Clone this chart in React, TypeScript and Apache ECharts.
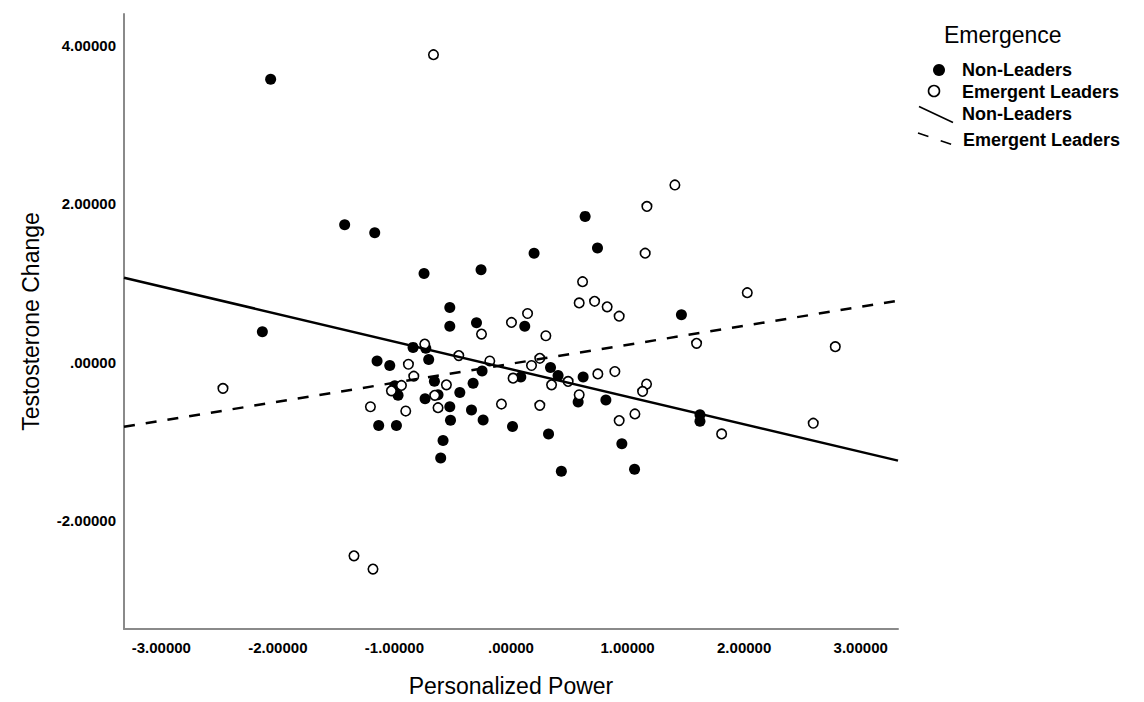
import React, { useEffect, useRef } from "react";
import * as echarts from "echarts";

const xTicks = [-3, -2, -1, 0, 1, 2, 3];
const yTicks = [-2, 0, 2, 4];

const nonLeaders: [number, number][] = [
  [-2.062, 3.577], [-2.133, 0.386], [-1.427, 1.737], [-1.169, 1.637],
  [-0.746, 1.122], [-0.257, 1.168], [0.636, 1.843], [0.742, 1.445],
  [0.198, 1.378], [1.462, 0.599], [-0.525, 0.691], [-0.525, 0.456],
  [-0.296, 0.499], [0.118, 0.456], [-0.84, 0.188], [-0.731, 0.176],
  [-0.706, 0.034], [-1.149, 0.016], [-1.04, -0.041], [-0.248, -0.109],
  [-0.657, -0.239], [-0.325, -0.264], [-0.997, -0.298], [-0.969, -0.418],
  [-0.626, -0.411], [-0.439, -0.381], [-0.737, -0.461], [-0.525, -0.562],
  [-0.339, -0.603], [-0.519, -0.732], [-0.239, -0.729], [0.013, -0.813],
  [-1.135, -0.8], [-0.983, -0.8], [-0.583, -0.989], [-0.603, -1.21],
  [0.339, -0.067], [0.084, -0.185], [0.404, -0.167], [0.619, -0.185],
  [0.576, -0.503], [0.814, -0.477], [0.322, -0.905], [0.951, -1.03],
  [0.432, -1.376], [1.06, -1.351], [1.621, -0.662], [1.621, -0.745],
];

const emergentLeaders: [number, number][] = [
  [-0.665, 3.886], [-2.471, -0.33], [1.406, 2.24], [1.166, 1.969],
  [1.151, 1.378], [0.614, 1.018], [0.585, 0.75], [0.717, 0.77],
  [0.825, 0.7], [0.928, 0.582], [0.142, 0.616], [0.004, 0.503],
  [-0.253, 0.356], [0.299, 0.335], [2.027, 0.879], [1.592, 0.239],
  [2.782, 0.197], [2.593, -0.77], [1.807, -0.905], [-0.74, 0.23],
  [-0.448, 0.084], [-0.182, 0.016], [-0.88, -0.025], [-0.834, -0.176],
  [0.018, -0.201], [-0.554, -0.285], [-0.94, -0.293], [-1.026, -0.361],
  [-0.654, -0.418], [-1.206, -0.562], [-0.903, -0.616], [-0.626, -0.574],
  [0.247, 0.05], [0.176, -0.041], [0.49, -0.242], [0.348, -0.285],
  [0.745, -0.147], [0.891, -0.117], [1.163, -0.276], [1.129, -0.368],
  [0.585, -0.411], [-0.082, -0.528], [0.247, -0.544], [1.063, -0.653],
  [0.928, -0.737], [-1.347, -2.446], [-1.184, -2.613],
];

// Fit lines: [intercept, slope]
const fitNonLeaders: [number, number] = [-0.087, -0.348];
const fitEmergentLeaders: [number, number] = [-0.019, 0.24];

const X_MIN = -3.32;
const X_MAX = 3.32;
const Y_MIN = -3.37;
const Y_MAX = 4.4;

const FONT = '"Liberation Sans", Arial, Helvetica, sans-serif';

const fmt = (v: number) => Number(v).toFixed(5).replace(/^(-?)0\./, "$1.");

const fitLine = (f: [number, number]) => [
  [X_MIN, f[0] + f[1] * X_MIN],
  [X_MAX, f[0] + f[1] * X_MAX],
];

export default function App() {
  const ref = useRef<HTMLDivElement>(null);
  useEffect(() => {
    document.body.style.margin = "0";
    if (!ref.current) return;
    const chart = echarts.init(ref.current, undefined, { renderer: "svg" });
    const legendText = (text: string, x: number, y: number, font: string) => ({
      type: "text",
      x,
      y,
      style: {
        text,
        fill: "#000",
        font,
        textAlign: "left",
        textVerticalAlign: "middle",
        align: "left",
        verticalAlign: "middle",
      },
    });
    chart.setOption({
      animation: false,
      backgroundColor: "#fff",
      grid: { left: 124, right: 246, top: 14, bottom: 70, containLabel: false },
      xAxis: {
        type: "value",
        min: X_MIN,
        max: X_MAX,
        name: "Personalized Power",
        nameLocation: "middle",
        nameGap: 45,
        nameTextStyle: { fontFamily: FONT, fontSize: 23, color: "#000" },
        splitLine: { show: false },
        axisTick: { show: false },
        axisLine: { show: true, onZero: false, lineStyle: { color: "#8a8a8a", width: 2 } },
        axisLabel: {
          customValues: xTicks,
          formatter: (v: number) => fmt(v),
          fontFamily: FONT,
          fontWeight: "bold",
          fontSize: 15,
          color: "#000",
          margin: 11,
        },
      },
      yAxis: {
        type: "value",
        min: Y_MIN,
        max: Y_MAX,
        name: "Testosterone Change",
        nameLocation: "middle",
        nameGap: 82,
        nameTextStyle: { fontFamily: FONT, fontSize: 23, color: "#000" },
        splitLine: { show: false },
        axisTick: { show: false },
        axisLine: { show: true, onZero: false, lineStyle: { color: "#8a8a8a", width: 2 } },
        axisLabel: {
          customValues: yTicks,
          formatter: (v: number) => fmt(v),
          fontFamily: FONT,
          fontWeight: "bold",
          fontSize: 15,
          color: "#000",
          margin: 8,
        },
      },
      series: [
        {
          name: "Non-Leaders",
          type: "scatter",
          data: nonLeaders,
          symbol: "circle",
          symbolSize: 11,
          itemStyle: { color: "#000", opacity: 1 },
          z: 2,
        },
        {
          name: "Emergent Leaders",
          type: "scatter",
          data: emergentLeaders,
          symbol: "circle",
          symbolSize: 9.5,
          itemStyle: { color: "#fff", borderColor: "#000", borderWidth: 1.6, opacity: 1 },
          z: 3,
        },
        {
          name: "Non-Leaders fit",
          type: "line",
          data: fitLine(fitNonLeaders),
          showSymbol: false,
          symbol: "none",
          lineStyle: { color: "#000", width: 2.5, type: "solid" },
          z: 4,
        },
        {
          name: "Emergent Leaders fit",
          type: "line",
          data: fitLine(fitEmergentLeaders),
          showSymbol: false,
          symbol: "none",
          lineStyle: { color: "#000", width: 2.5, type: [11, 11] },
          z: 4,
        },
      ],
      graphic: [
        legendText("Emergence", 944, 35, `23px ${FONT}`),
        { type: "circle", shape: { cx: 939, cy: 70, r: 6 }, style: { fill: "#000" } },
        legendText("Non-Leaders", 962, 70, `bold 18px ${FONT}`),
        {
          type: "circle",
          shape: { cx: 934, cy: 91, r: 5.5 },
          style: { fill: "#fff", stroke: "#000", lineWidth: 1.6 },
        },
        legendText("Emergent Leaders", 962, 92, `bold 18px ${FONT}`),
        {
          type: "line",
          shape: { x1: 919, y1: 106.5, x2: 953, y2: 122.5 },
          style: { stroke: "#000", lineWidth: 1.6 },
        },
        legendText("Non-Leaders", 962, 114, `bold 18px ${FONT}`),
        {
          type: "line",
          shape: { x1: 918, y1: 133, x2: 953, y2: 145 },
          style: { stroke: "#000", lineWidth: 1.6, lineDash: [11, 13] },
        },
        legendText("Emergent Leaders", 963, 140, `bold 18px ${FONT}`),
      ],
    });
    return () => chart.dispose();
  }, []);
  return <div ref={ref} style={{ width: 1144, height: 702 }} />;
}
